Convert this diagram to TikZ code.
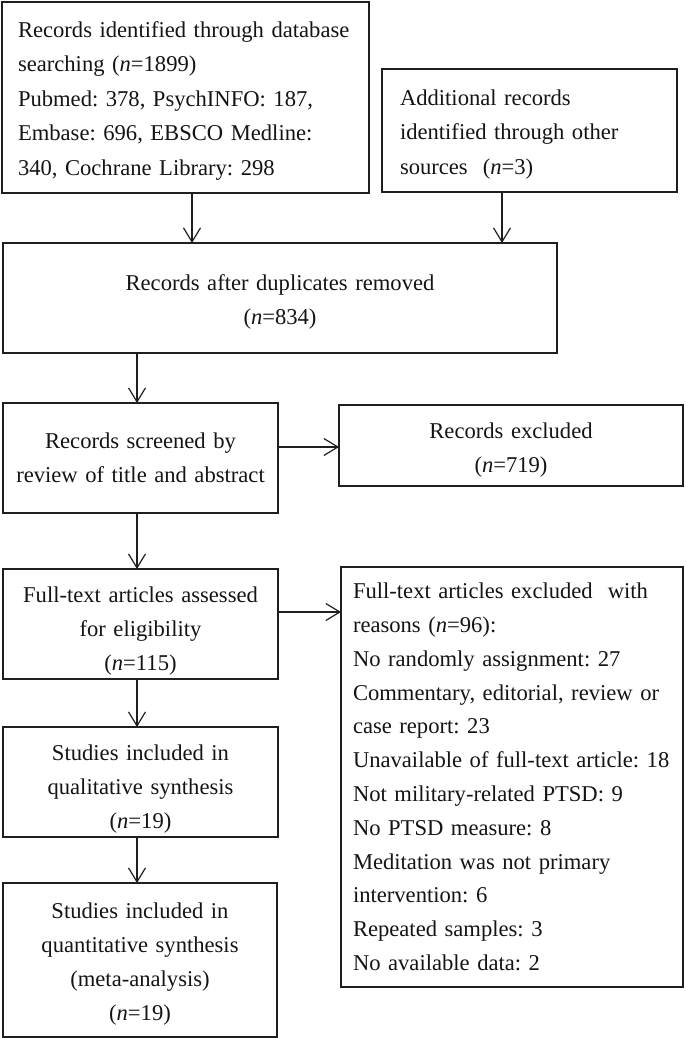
\documentclass[tikz,border=0pt]{standalone}
\usepackage{fontspec}
\setmainfont{Liberation Serif}
\usetikzlibrary{arrows.meta}
\frenchspacing
\tikzset{
  box/.style={draw=black!88, line width=1.2pt, rectangle, outer sep=0pt,
    font=\fontsize{22.6}{34}\selectfont\frenchspacing, text=black!92},
  lbox/.style={box, align=left},
  cbox/.style={box, align=center},
  arr/.style={draw=black!88, line width=1.2pt,
    -{Straight Barb[length=14pt,width=17pt,line width=1.2pt]}}
}
\newcommand{\nn}{\textit{n}}
\newcommand{\tp}[1]{\rule{0pt}{#1}}
\begin{document}
\begin{tikzpicture}
\useasboundingbox (0,0) rectangle (685pt,-1038pt);
% boxes
\node[lbox, inner xsep=16pt, text width=335pt, minimum height=191pt,
  font=\fontsize{22.6}{34.5}\selectfont\frenchspacing] (b1) at (185.5pt,-97.5pt)
 {\tp{22.5pt}Records identified through database\\ searching (\nn=1899)\\ Pubmed: 378, PsychINFO: 187,\\ Embase: 696, EBSCO Medline:\\ 340, Cochrane Library: 298};
\node[lbox, inner xsep=18pt, text width=259pt, minimum height=123pt,
  font=\fontsize{22.6}{34.5}\selectfont\frenchspacing] (b2) at (529.5pt,-130.5pt)
 {\tp{23.5pt}Additional records\\ identified through other\\ sources\ \ (\nn=3)};
\node[cbox, inner xsep=10pt, text width=534pt, minimum height=110pt] (b3) at (280pt,-298pt)
 {\tp{23.5pt}Records after duplicates removed\\ (\nn=834)};
\node[cbox, inner xsep=8pt, text width=259pt, minimum height=110pt] (b4) at (140.5pt,-458pt)
 {Records screened by\\ review of title and abstract};
\node[cbox, inner xsep=10pt, text width=324pt, minimum height=81pt] (b5) at (511pt,-445.5pt)
 {\tp{25.5pt}Records excluded\\ (\nn=719)};
\node[cbox, inner xsep=8pt, text width=259pt, minimum height=110pt] (b6) at (140.5pt,-624pt)
 {\tp{29.5pt}Full-text articles assessed\\ for eligibility\\ (\nn=115)};
\node[lbox, inner xsep=12pt, text width=318pt, minimum height=420pt,
  font=\fontsize{22.6}{33.8}\selectfont\frenchspacing] (b7) at (512pt,-777pt)
 {Full-text articles excluded\ \ with\\ reasons (\nn=96):\\ No randomly assignment: 27\\ Commentary, editorial, review or\\ case report: 23\\ Unavailable of full-text article: 18\\ Not military-related PTSD: 9\\ No PTSD measure: 8\\ Meditation was not primary\\ intervention: 6\\ Repeated samples: 3\\ No available data: 2};
\node[cbox, inner xsep=8pt, text width=259pt, minimum height=110pt] (b8) at (140.5pt,-782pt)
 {\tp{29.5pt}Studies included in\\ qualitative synthesis\\ (\nn=19)};
\node[cbox, inner xsep=8pt, text width=258pt, minimum height=154pt] (b9) at (140pt,-960pt)
 {\tp{23.5pt}Studies included in\\ quantitative synthesis\\ (meta-analysis)\\ (\nn=19)};
% connector guides
\coordinate (xa) at (192pt,0);
\coordinate (xb) at (502pt,0);
\coordinate (xc) at (137pt,0);
\coordinate (ya) at (0,-447pt);
\coordinate (yb) at (0,-612pt);
% connectors
\draw[arr] (xa |- b1.south) -- (xa |- b3.north);
\draw[arr] (xb |- b2.south) -- (xb |- b3.north);
\draw[arr] (xc |- b3.south) -- (xc |- b4.north);
\draw[arr] (b4.east |- ya) -- (b5.west |- ya);
\draw[arr] (xc |- b4.south) -- (xc |- b6.north);
\draw[arr] (b6.east |- yb) -- (b7.west |- yb);
\draw[arr] (xc |- b6.south) -- (xc |- b8.north);
\draw[arr] (xc |- b8.south) -- (xc |- b9.north);
\end{tikzpicture}
\end{document}
